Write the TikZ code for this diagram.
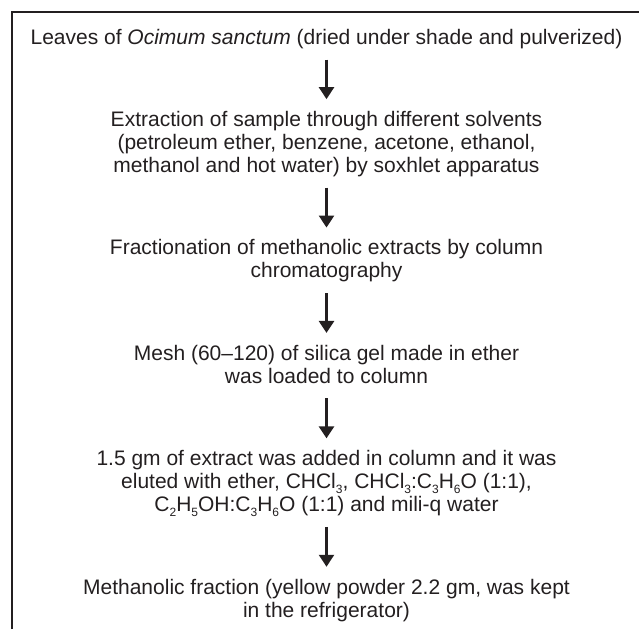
\documentclass[tikz,border=0pt]{standalone}
\usepackage{fontspec}
\setmainfont{Liberation Sans}
\usetikzlibrary{arrows.meta}
\definecolor{ink}{RGB}{35,31,32}
\newcommand{\lowsub}[1]{\raisebox{-5pt}{\fontsize{12}{12}\selectfont #1}}

\begin{document}
\begin{tikzpicture}[x=1pt, y=-1pt,
    stage/.style={align=center, inner sep=0pt, text=ink,
      font=\fontsize{21}{23}\selectfont,
      execute at begin node=\strut, execute at end node=\strut},
    flow/.style={ink, line width=2.6pt, shorten <=8pt, shorten >=12pt,
      -{Triangle[width=15pt, length=12pt]}}]
    \useasboundingbox (0,0) rectangle (639,629);
    \draw[ink, line width=2.5pt] (12,629) -- (12,12) -- (639,12);

    \node[stage] (n1) at (326.5,40) {Leaves of \textit{Ocimum sanctum} (dried under shade and pulverized)};
    \node[stage] (n2) at (326.5,145.4) {Extraction of sample through different solvents\\
      (petroleum ether, benzene, acetone, ethanol,\\
      methanol and hot water) by soxhlet apparatus};
    \node[stage] (n3) at (326.5,262.3) {Fractionation of methanolic extracts by column\\
      chromatography};
    \node[stage] (n4) at (326.5,367.7) {Mesh (60--120) of silica gel made in ether\\
      was loaded to column};
    \node[stage] (n5) at (326.5,484.6) {1.5 gm of extract was added in column and it was\\
      eluted with ether, CHCl\lowsub{3}, CHCl\lowsub{3}:C\lowsub{3}H\lowsub{6}O (1:1),\\
      C\lowsub{2}H\lowsub{5}OH:C\lowsub{3}H\lowsub{6}O (1:1) and mili-q water};
    \node[stage] (n6) at (326.5,601.5) {Methanolic fraction (yellow powder 2.2 gm, was kept\\
      in the refrigerator)};

    \draw[flow] (n1) -- (n2);
    \draw[flow] (n2) -- (n3);
    \draw[flow] (n3) -- (n4);
    \draw[flow] (n4) -- (n5);
    \draw[flow] (n5) -- (n6);
\end{tikzpicture}
\end{document}
